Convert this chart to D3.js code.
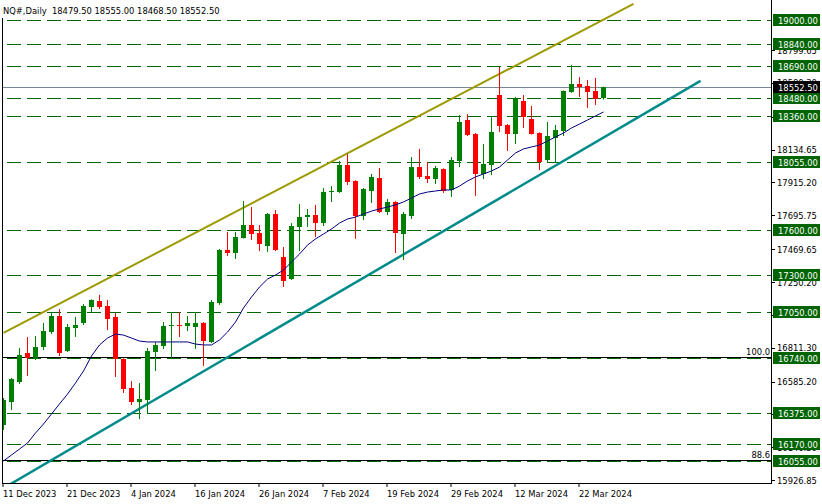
<!DOCTYPE html>
<html><head><meta charset="utf-8">
<script src="https://cdn.jsdelivr.net/npm/d3@7/dist/d3.min.js"></script>
<style>
html,body{margin:0;padding:0;background:#fff;}
svg{display:block;}
text{font-family:"DejaVu Sans Condensed","DejaVu Sans",sans-serif;font-stretch:condensed;font-size:9.3px;}
</style></head>
<body>
<svg id="chart" width="822" height="504"></svg>
<script>
const title = "NQ#,Daily  18479.50 18555.00 18468.50 18552.50";
const opens  = [16295,16449,16583,16776,16743,16816,16916,17023,16790,16943,16977,17083,17124,17090,17017,16736,16542,16449,16462,16783,16823,16955,16960,16957,16950,16977,16850,17110,17464,17444,17544,17631,17578,17491,17704,17417,17270,17618,17684,17698,17644,17851,17851,18032,17925,17691,17858,17945,17718,17785,17571,17691,18018,17958,17938,18005,17865,18058,18332,18239,17972,18032,18499,18299,18239,18459,18339,18245,18065,18212,18259,18519,18573,18559,18526,18479.5];
const highs  = [16476,16610,16810,16883,16890,16977,17043,17070,16970,17017,17103,17135,17164,17130,17043,16740,16589,16576,16810,16850,16983,17050,17050,17023,17050,16983,17130,17471,17584,17584,17791,17751,17631,17711,17731,17484,17644,17771,17738,17765,17878,17891,18058,18105,17930,17878,17972,18012,17805,17790,17718,18085,18139,18052,18025,18010,18085,18366,18372,18245,18172,18352,18686,18305,18486,18499,18426,18250,18319,18299,18530,18700,18619,18599,18613,18555];
const lows   = [16262,16396,16569,16623,16729,16796,16903,16756,16783,16883,16963,17050,17070,16930,16616,16509,16429,16335,16375,16656,16803,16743,16883,16923,16803,16689,16843,17097,17424,17404,17540,17531,17457,17451,17457,17217,17264,17457,17618,17551,17624,17785,17845,17898,17538,17664,17778,17711,17698,17444,17397,17671,17938,17911,17905,17845,17818,18018,18225,17825,17938,17965,18252,18125,18172,18279,18235,17998,18052,18052,18225,18512,18486,18412,18432,18468.5];
const closes = [16462,16603,16763,16743,16816,16923,17023,16776,16950,16963,17090,17130,17083,17003,16736,16536,16449,16469,16790,16830,16957,16960,16953,16977,16977,16856,17117,17464,17444,17551,17631,17571,17504,17704,17464,17257,17624,17684,17698,17644,17851,17858,18032,17918,17691,17871,17952,17718,17785,17578,17704,18018,17952,17938,18012,17858,18065,18319,18232,17972,18038,18252,18292,18239,18472,18352,18239,18052,18225,18265,18526,18573,18553,18519,18472,18552.5];
const maValues = [16055,16095,16135,16175,16242,16302,16369,16436,16502,16576,16656,16756,16830,16876,16903,16896,16876,16856,16850,16850,16850,16850,16850,16850,16836,16830,16830,16863,16916,16983,17077,17150,17217,17270,17297,17330,17384,17437,17497,17538,17571,17604,17644,17671,17684,17704,17724,17738,17751,17765,17785,17811,17838,17851,17858,17865,17865,17891,17925,17952,17972,17992,18018,18065,18112,18139,18152,18165,18192,18219,18245,18279,18305,18332,18359,18386];
const dateLabels = ["11 Dec 2023","21 Dec 2023","4 Jan 2024","16 Jan 2024","26 Jan 2024","7 Feb 2024","19 Feb 2024","29 Feb 2024","12 Mar 2024","22 Mar 2024"];
const dateBars = [0,8,16,24,32,40,48,56,64,72];
const priceTicks = [15926.85,16146.30,16365.75,16585.20,16811.30,17030.75,17250.20,17469.65,17695.75,17915.20,18134.65,18354.10,18580.30,18799.65];
const levels = [19000,18840,18690,18480,18360,18055,17600,17300,17050,16740,16375,16170,16055];
const fiboLevels = [16740,16055];
const fiboLabels = ["100.0","88.6"];
const currentPrice = 18552.50;
const upperTrend = [[0,16910],[78.75,19107]];
const lowerTrend = [[0.875,15901],[87.125,18593]];

const svg = d3.select("#chart");
const L = 2, R = 771, B = 483;
const x = d3.scaleLinear().domain([0,75]).range([3,603]);
const y = d3.scaleLinear().domain([16055,19000]).range([461,20]);
const GREEN = "#008000", RED = "#ff0000", DG = "#006400";

svg.append("defs").append("clipPath").attr("id","clip")
  .append("rect").attr("x",L+1).attr("y",0).attr("width",R-L-1).attr("height",B);

const plot = svg.append("g").attr("clip-path","url(#clip)");

plot.selectAll("line.lvl").data(levels).join("line").attr("class","lvl")
  .attr("x1",L).attr("x2",R)
  .attr("y1",d=>Math.round(y(d))+0.5).attr("y2",d=>Math.round(y(d))+0.5)
  .attr("stroke",DG).attr("stroke-width",1).attr("stroke-dasharray","14,6").attr("stroke-dashoffset",15);

plot.selectAll("line.fib").data(fiboLevels).join("line").attr("class","fib")
  .attr("x1",L).attr("x2",R)
  .attr("y1",d=>Math.round(y(d))-0.5).attr("y2",d=>Math.round(y(d))-0.5)
  .attr("stroke","#000").attr("stroke-width",1);

plot.append("line").attr("x1",L).attr("x2",R)
  .attr("y1",Math.round(y(currentPrice))+0.5).attr("y2",Math.round(y(currentPrice))+0.5)
  .attr("stroke","#778899").attr("stroke-width",1);

const tl = d3.line().x(d=>x(d[0])+0.5).y(d=>y(d[1]));
plot.append("path").attr("d",tl(upperTrend)).attr("fill","none").attr("stroke","#9c9a00").attr("stroke-width",2);
plot.append("path").attr("d",tl(lowerTrend)).attr("fill","none").attr("stroke","#008b8b").attr("stroke-width",2.5);

const idx = d3.range(opens.length);
const cg = plot.append("g");
cg.selectAll("line.wick").data(idx).join("line").attr("class","wick")
  .attr("x1",i=>x(i)+0.5).attr("x2",i=>x(i)+0.5)
  .attr("y1",i=>y(highs[i])).attr("y2",i=>y(lows[i]))
  .attr("stroke",i=>closes[i]>=opens[i]?GREEN:RED).attr("stroke-width",1);
cg.selectAll("rect.body").data(idx).join("rect").attr("class","body")
  .attr("x",i=>x(i)-2).attr("width",5)
  .attr("y",i=>Math.round(y(Math.max(opens[i],closes[i]))))
  .attr("height",i=>Math.max(1,Math.round(Math.abs(y(opens[i])-y(closes[i])))))
  .attr("fill",i=>closes[i]>=opens[i]?GREEN:RED);

plot.append("path").attr("d",d3.line().x((d,i)=>x(i)+0.5).y(d=>y(d))(maValues))
  .attr("fill","none").attr("stroke","#000080").attr("stroke-width",1);

svg.selectAll("text.fibl").data(fiboLevels).join("text").attr("class","fibl")
  .attr("x",R-1).attr("y",d=>y(d)-3).attr("text-anchor","end").attr("fill","#000")
  .text((d,i)=>fiboLabels[i]);

svg.append("line").attr("x1",R+0.5).attr("x2",R+0.5).attr("y1",0).attr("y2",B+1).attr("stroke","#000");
svg.append("line").attr("x1",L+0.5).attr("x2",L+0.5).attr("y1",18).attr("y2",B+1).attr("stroke","#000");
svg.append("line").attr("x1",L).attr("x2",R+1).attr("y1",B+0.5).attr("y2",B+0.5).attr("stroke","#000");

const ra = svg.append("g");
ra.selectAll("line").data(priceTicks).join("line")
  .attr("x1",R+1).attr("x2",R+4).attr("y1",d=>Math.round(y(d))+0.5).attr("y2",d=>Math.round(y(d))+0.5).attr("stroke","#000");
ra.selectAll("text").data(priceTicks).join("text")
  .attr("x",R+6).attr("y",d=>y(d)+3.5).attr("fill","#000").text(d=>d.toFixed(2));

const lb = svg.append("g");
const lvG = lb.selectAll("g").data(levels).join("g").attr("transform",d=>`translate(${R+2},${Math.round(y(d))-6})`);
lvG.append("rect").attr("width",47).attr("height",12).attr("fill",DG);
lvG.append("text").attr("x",5).attr("y",9.5).attr("fill","#fff").text(d=>d.toFixed(2));

const cp = svg.append("g").attr("transform",`translate(${R+2},${Math.round(y(currentPrice))-6})`);
cp.append("rect").attr("width",47).attr("height",12).attr("fill","#000");
cp.append("text").attr("x",5).attr("y",9.5).attr("fill","#fff").text(currentPrice.toFixed(2));

const ba = svg.append("g");
ba.selectAll("line").data(dateBars).join("line")
  .attr("x1",d=>x(d)).attr("x2",d=>x(d)).attr("y1",B).attr("y2",B+4).attr("stroke","#000");
ba.selectAll("text").data(dateBars).join("text")
  .attr("x",d=>x(d)).attr("y",497).attr("fill","#000").text((d,i)=>dateLabels[i]);

svg.append("text").attr("x",3).attr("y",14).attr("fill","#000").text(title).style("white-space","pre");
</script>
</body></html>
